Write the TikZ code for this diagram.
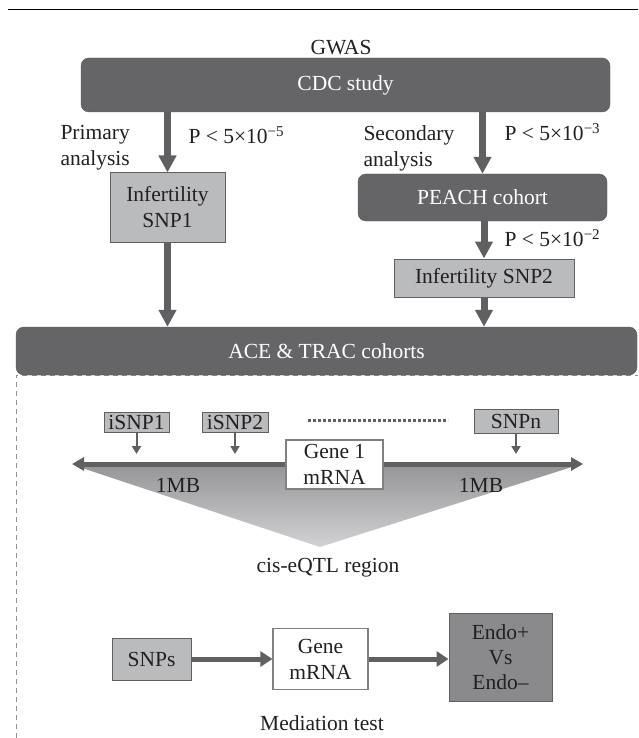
\documentclass[tikz,border=0pt]{standalone}
\usepackage{fontspec}
\setmainfont{Liberation Serif}
\usetikzlibrary{positioning, arrows.meta}
\definecolor{boxdark}{RGB}{101,101,103}
\definecolor{boxlight}{RGB}{186,187,189}
\definecolor{arrowgray}{RGB}{96,96,98}
\definecolor{endogray}{RGB}{138,138,140}
\definecolor{inkgray}{RGB}{35,31,32}
\definecolor{tritop}{RGB}{150,150,152}
\definecolor{tribottom}{RGB}{210,210,212}
\tikzset{
    dark box/.style = {rounded corners = 8pt, fill = boxdark, draw = boxdark!85!black, text = white, inner sep = 0pt},
    light box/.style = {fill = boxlight, draw = arrowgray, line width = 1pt, align = center, inner sep = 0pt},
    white box/.style = {fill = white, draw = arrowgray!80, line width = 1.2pt, align = center, inner sep = 0pt},
    endo box/.style = {fill = endogray, draw = arrowgray, line width = 1pt, align = center, inner sep = 0pt},
}
\tikzset{
    big arrow/.style = {draw = arrowgray, line width = 7pt, -{Triangle[length = 17pt, width = 17pt]}},
    mid arrow/.style = {draw = arrowgray, line width = 5pt, -{Triangle[length = 12pt, width = 15pt]}},
    small arrow/.style = {draw = arrowgray, line width = 2pt, -{Triangle[length = 8pt, width = 9pt]}},
    region arrow/.style = {draw = arrowgray, line width = 5pt, {Triangle[length = 12pt, width = 13pt]}-{Triangle[length = 12pt, width = 13pt]}},
}

\begin{document}
\begin{tikzpicture}[x = 1pt, y = -1pt, font = \fontsize{21.5}{26}\selectfont, text = inkgray]
            \useasboundingbox (0, 0) rectangle (638, 738);
            \draw[line width = 1.3pt] (8, 9.5) -- (638, 9.5);

            \node (gwas) at (341, 48) {GWAS};
            \node[dark box, minimum width = 529pt, minimum height = 54pt] (cdc) at (345.5, 85) {CDC study};

            \node[anchor = west, align = left] (primary) at (57, 148) {Primary\\analysis};
            \node[anchor = west] (p primary) at (185, 135) {P < 5×10\textsuperscript{−5}};
            \node[anchor = west, align = left] (secondary) at (360, 148) {Secondary\\analysis};
            \node[anchor = west] (p secondary) at (501, 132) {P < 5×10\textsuperscript{−3}};

            \node[light box, minimum width = 115pt, minimum height = 69pt] (snp1) at (167.5, 207.5) {Infertility\\SNP1};
            \node[dark box, minimum width = 249pt, minimum height = 47pt] (peach) at (482.5, 197.5) {PEACH cohort};
            \node[anchor = west] (p peach) at (501, 238) {P < 5×10\textsuperscript{−2}};
            \node[light box, minimum width = 180pt, minimum height = 38pt] (snp2) at (484, 278) {Infertility SNP2};

            \draw[arrowgray!70, line width = 0.8pt, dash pattern = on 5pt off 4pt] (16, 738) -- (16, 375.5) -- (638, 375.5);
            \node[dark box, minimum width = 621pt, minimum height = 48pt] (ace) at (326.5, 351) {ACE \& TRAC cohorts};

            \draw[big arrow] (snp1.north |- cdc.south) -- (snp1.north);
            \draw[big arrow] (peach.north |- cdc.south) -- (peach.north);
            \draw[big arrow] (snp2.north |- peach.south) -- (snp2.north);
            \draw[big arrow] (snp1.south) -- (snp1.south |- ace.north);
            \draw[big arrow] (snp2.south) -- (snp2.south |- ace.north);

            \shade[top color = tritop, bottom color = tribottom] (76, 466) -- (575, 466) -- (320, 547) -- cycle;
            \coordinate (left end) at (72, 464);
            \coordinate (right end) at (583, 464);
            \draw[region arrow] (left end) -- (right end);

            \node[light box, minimum width = 65pt, minimum height = 20pt] (isnp1) at (136.5, 422) {iSNP1};
            \node[light box, minimum width = 66pt, minimum height = 20pt] (isnp2) at (235, 422) {iSNP2};
            \node[light box, minimum width = 84pt, minimum height = 24pt] (snpn) at (516, 421) {SNPn};
            \draw[arrowgray, line width = 3pt, dash pattern = on 2.5pt off 2.5pt] (308, 420) -- (448, 420);

            \coordinate (tip1) at (136.5, 454);
            \coordinate (tip2) at (235, 454);
            \coordinate (tipn) at (516, 454);
            \draw[small arrow] (isnp1) -- (tip1);
            \draw[small arrow] (isnp2) -- (tip2);
            \draw[small arrow] (snpn) -- (tipn);

            \node[white box, minimum width = 97pt, minimum height = 49pt] (gene1) at (334.5, 464.5) {Gene 1\\mRNA};
            \node (mb left) at (178, 485) {1MB};
            \node (mb right) at (481, 485) {1MB};
            \node (region) at (328, 568) {cis-eQTL region};

            \node[light box, minimum width = 79pt, minimum height = 42pt] (snps) at (151.5, 659) {SNPs};
            \node[white box, minimum width = 95pt, minimum height = 61pt] (gene) at (320.5, 659) {Gene\\mRNA};
            \node[endo box, minimum width = 103pt, minimum height = 88pt, font = \fontsize{21.5}{25}\selectfont] (endo) at (500.5, 657) {Endo+\\Vs\\Endo–};
            \node (mediation) at (322, 723) {Mediation test};

            \draw[mid arrow] (snps) -- (gene);
            \draw[mid arrow] (gene.east) -- (endo.west |- gene.east);
        \end{tikzpicture}
\end{document}
